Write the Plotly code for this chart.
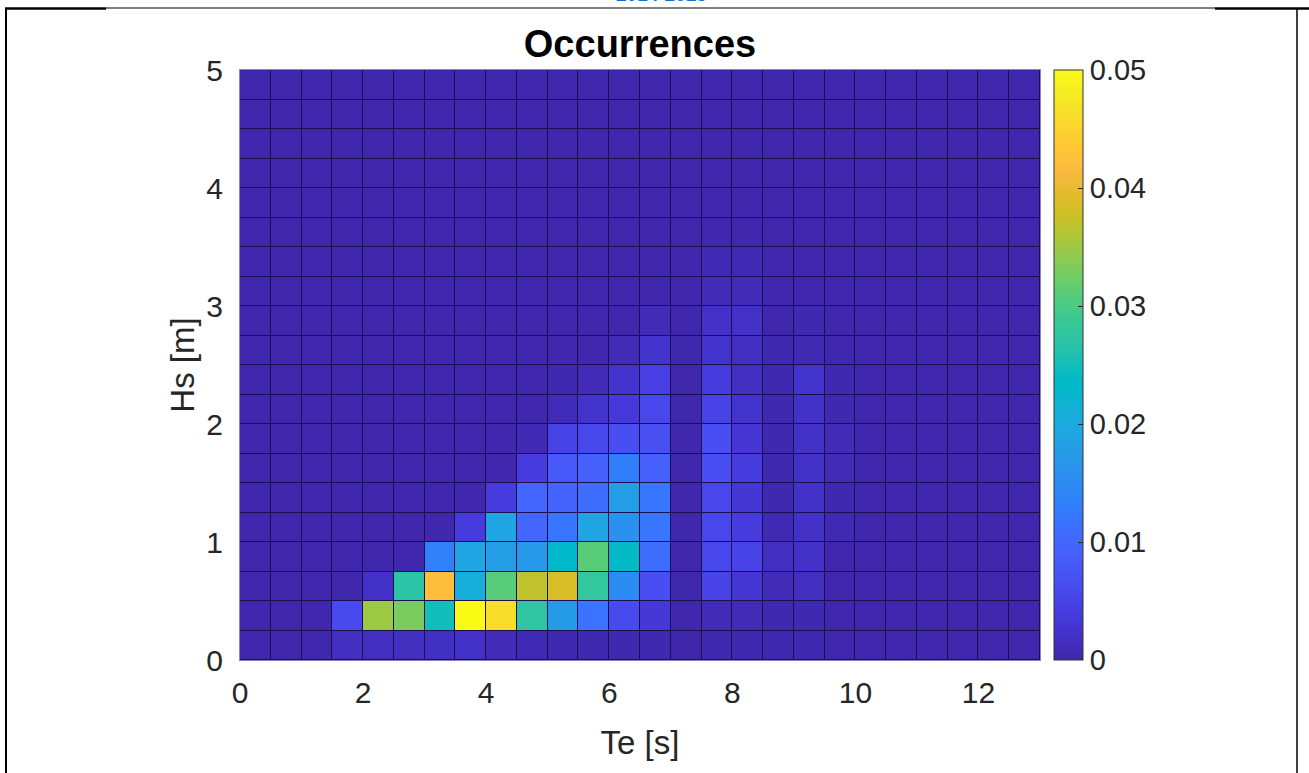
import plotly.graph_objects as go

# ---------------- data ----------------
Te_edges = [0.0, 0.5, 1.0, 1.5, 2.0, 2.5, 3.0, 3.5, 4.0, 4.5, 5.0, 5.5, 6.0, 6.5,
            7.0, 7.5, 8.0, 8.5, 9.0, 9.5, 10.0, 10.5, 11.0, 11.5, 12.0, 12.5, 13.0]
Hs_edges = [0.0, 0.25, 0.5, 0.75, 1.0, 1.25, 1.5, 1.75, 2.0, 2.25, 2.5, 2.75,
            3.0, 3.25, 3.5, 3.75, 4.0, 4.25, 4.5, 4.75, 5.0]

b = 0.0004
# occurrences, one list per Hs bin (bottom to top), 26 Te bins each
occ_r00 = [b, b, b, 0.0015, 0.0015, 0.0015, 0.0018, 0.002, 0.001, 0.0008, 0.0006, 0.0005, 0.0005, 0.0005, 0.0002, 0.0006, 0.0006, 0.0005, 0.0005, b, b, b, b, b, b, b]
occ_r01 = [b, b, b, 0.006, 0.035, 0.033, 0.025, 0.05, 0.046, 0.0275, 0.0175, 0.0115, 0.006, 0.0033, 0.0004, 0.001, 0.001, 0.0006, 0.0006, b, b, b, b, b, b, b]
occ_r02 = [b, b, b, b, 0.002, 0.027, 0.042, 0.021, 0.031, 0.037, 0.0385, 0.028, 0.015, 0.0065, 0.0003, 0.005, 0.003, 0.001, 0.0015, b, b, b, b, b, b, b]
occ_r03 = [b, b, b, b, b, b, 0.0135, 0.019, 0.018, 0.017, 0.023, 0.031, 0.0235, 0.011, 0.0003, 0.0055, 0.005, 0.0015, 0.002, b, b, b, b, b, b, b]
occ_r04 = [b, b, b, b, b, b, b, 0.004, 0.019, 0.010, 0.012, 0.019, 0.016, 0.012, 0.0003, 0.0055, 0.004, 0.0008, 0.002, 0.0008, b, b, b, b, b, b]
occ_r05 = [b, b, b, b, b, b, b, b, 0.004, 0.010, 0.0095, 0.011, 0.018, 0.012, 0.0003, 0.0055, 0.003, 0.0006, 0.002, 0.0006, b, b, b, b, b, b]
occ_r06 = [b, b, b, b, b, b, b, b, b, 0.004, 0.008, 0.009, 0.013, 0.009, 0.0003, 0.0065, 0.004, 0.0006, 0.002, 0.001, b, b, b, b, b, b]
occ_r07 = [b, b, b, b, b, b, b, b, b, 0.0008, 0.005, 0.0055, 0.0065, 0.0068, 0.0003, 0.0065, 0.003, 0.0006, 0.002, 0.001, b, b, b, b, b, b]
occ_r08 = [b, b, b, b, b, b, b, b, b, b, 0.0012, 0.0025, 0.0035, 0.0055, 0.0003, 0.005, 0.0025, 0.0005, 0.002, 0.0006, b, b, b, b, b, b]
occ_r09 = [b, b, b, b, b, b, b, b, b, b, 0.0005, 0.001, 0.0025, 0.0045, 0.0003, 0.004, 0.0015, 0.0005, 0.0025, 0.0006, b, b, b, b, b, b]
occ_r10 = [b, b, b, b, b, b, b, b, b, b, b, b, 0.001, 0.0025, 0.0003, 0.0025, 0.0015, 0.0005, 0.0008, b, b, b, b, b, b, b]
occ_r11 = [b, b, b, b, b, b, b, b, b, b, b, b, b, 0.001, 0.0003, 0.002, 0.002, b, 0.0006, b, b, b, b, b, b, b]
occ_r12 = [b, b, b, b, b, b, b, b, b, b, b, b, b, b, b, 0.001, 0.001, b, b, b, b, b, b, b, b, b]
occ_r13 = [b, b, b, b, b, b, b, b, b, b, b, b, b, b, b, 0.0008, 0.0008, b, b, b, b, b, b, b, b, b]
occ_r14 = [b] * 26
occ_r15 = [b] * 26
occ_r16 = [b] * 26
occ_r17 = [b] * 26
occ_r18 = [b] * 26
occ_r19 = [b] * 26

occurrences = [occ_r00, occ_r01, occ_r02, occ_r03, occ_r04, occ_r05, occ_r06, occ_r07,
               occ_r08, occ_r09, occ_r10, occ_r11, occ_r12, occ_r13, occ_r14, occ_r15,
               occ_r16, occ_r17, occ_r18, occ_r19]

x_ticks = [0, 2, 4, 6, 8, 10, 12]
y_ticks = [0, 1, 2, 3, 4, 5]
cb_ticks = [0, 0.01, 0.02, 0.03, 0.04, 0.05]
cb_ticktext = ["0", "0.01", "0.02", "0.03", "0.04", "0.05"]

# ---------------- parula colormap ----------------
parula = [
    (0.2422, 0.1504, 0.6603), (0.2504, 0.1650, 0.7076), (0.2578, 0.1818, 0.7511), (0.2647, 0.1978, 0.7952),
    (0.2706, 0.2147, 0.8364), (0.2751, 0.2342, 0.8710), (0.2783, 0.2559, 0.8991), (0.2803, 0.2782, 0.9221),
    (0.2813, 0.3006, 0.9414), (0.2810, 0.3228, 0.9579), (0.2795, 0.3447, 0.9717), (0.2760, 0.3667, 0.9829),
    (0.2699, 0.3892, 0.9906), (0.2602, 0.4123, 0.9952), (0.2440, 0.4358, 0.9988), (0.2206, 0.4603, 0.9973),
    (0.1963, 0.4847, 0.9892), (0.1834, 0.5074, 0.9798), (0.1786, 0.5289, 0.9682), (0.1764, 0.5499, 0.9520),
    (0.1687, 0.5703, 0.9359), (0.1540, 0.5902, 0.9218), (0.1460, 0.6091, 0.9079), (0.1380, 0.6276, 0.8973),
    (0.1248, 0.6459, 0.8883), (0.1113, 0.6635, 0.8763), (0.0952, 0.6798, 0.8598), (0.0689, 0.6948, 0.8394),
    (0.0297, 0.7082, 0.8163), (0.0036, 0.7203, 0.7917), (0.0067, 0.7312, 0.7660), (0.0433, 0.7411, 0.7394),
    (0.0964, 0.7500, 0.7120), (0.1408, 0.7584, 0.6842), (0.1717, 0.7670, 0.6554), (0.1938, 0.7758, 0.6251),
    (0.2161, 0.7843, 0.5923), (0.2470, 0.7918, 0.5567), (0.2906, 0.7973, 0.5188), (0.3406, 0.8008, 0.4789),
    (0.3909, 0.8029, 0.4354), (0.4456, 0.8024, 0.3909), (0.5044, 0.7993, 0.3480), (0.5616, 0.7942, 0.3045),
    (0.6174, 0.7876, 0.2612), (0.6720, 0.7793, 0.2227), (0.7242, 0.7698, 0.1910), (0.7738, 0.7598, 0.1646),
    (0.8203, 0.7498, 0.1535), (0.8634, 0.7406, 0.1596), (0.9035, 0.7330, 0.1774), (0.9393, 0.7288, 0.2100),
    (0.9728, 0.7298, 0.2394), (0.9956, 0.7434, 0.2371), (0.9970, 0.7659, 0.2199), (0.9952, 0.7893, 0.2028),
    (0.9892, 0.8136, 0.1885), (0.9786, 0.8386, 0.1766), (0.9676, 0.8639, 0.1643), (0.9610, 0.8890, 0.1537),
    (0.9597, 0.9135, 0.1423), (0.9628, 0.9373, 0.1265), (0.9691, 0.9606, 0.1064), (0.9769, 0.9839, 0.0805),
]
n = len(parula)
colorscale = [[i / (n - 1), "rgb(%d,%d,%d)" % tuple(round(c * 255) for c in rgb)]
              for i, rgb in enumerate(parula)]

# ---------------- figure ----------------
W, H = 1309, 773
L, R, T, B = 240, 1040, 70, 660   # plot area in pixels
FONT = "Liberation Sans, Arial, Helvetica, sans-serif"
TXT = "#262626"

fig = go.Figure(go.Heatmap(
    x=Te_edges, y=Hs_edges, z=occurrences,
    colorscale=colorscale, zmin=0, zmax=0.05,
    xgap=1, ygap=1,
    colorbar=dict(
        x=1 + 14 / (R - L), xanchor="left", xpad=0,
        y=0.5, yanchor="middle", len=1, lenmode="fraction", ypad=0,
        thickness=29, thicknessmode="pixels",
        outlinecolor="#333333", outlinewidth=1,
        tickvals=cb_ticks, ticktext=cb_ticktext,
        ticks="inside", ticklen=5, tickcolor=TXT,
        tickfont=dict(family=FONT, size=29, color=TXT),
    ),
))


def px2x(p):
    return (p - L) / (R - L)


def px2y(p):
    return (B - p) / (B - T)


shapes = [
    # outer frame
    dict(type="line", xref="paper", yref="paper", x0=px2x(6), x1=px2x(6), y0=px2y(8), y1=px2y(780),
         line=dict(color="black", width=2)),
    dict(type="line", xref="paper", yref="paper", x0=px2x(1297), x1=px2x(1297), y0=px2y(8), y1=px2y(780),
         line=dict(color="black", width=1.5)),
    dict(type="line", xref="paper", yref="paper", x0=px2x(5), x1=px2x(106), y0=px2y(8.5), y1=px2y(8.5),
         line=dict(color="black", width=2.5)),
    dict(type="line", xref="paper", yref="paper", x0=px2x(106), x1=px2x(1215), y0=px2y(8), y1=px2y(8),
         line=dict(color="black", width=1)),
    dict(type="line", xref="paper", yref="paper", x0=px2x(1215), x1=px2x(1309), y0=px2y(8.5), y1=px2y(8.5),
         line=dict(color="black", width=2.5)),
]

fig.update_layout(
    width=W, height=H,
    margin=dict(l=L, r=W - R, t=T, b=H - B, pad=0),
    paper_bgcolor="white",
    plot_bgcolor="#1c0f4e",
    font=dict(family=FONT, color=TXT),
    title=dict(text="<b>Occurrences</b>", x=(L + R) / 2 / W, xanchor="center",
               y=1 - 44 / H, yanchor="middle", yref="container",
               font=dict(family=FONT, size=38, color="black")),
    xaxis=dict(range=[0, 13], tickvals=x_ticks, ticks="", showgrid=False, zeroline=False,
               tickfont=dict(size=30, color=TXT), ticklabelstandoff=6,
               showline=True, linecolor="#8a84c4", linewidth=1, mirror=True,
               title=dict(text="Te [s]", font=dict(size=33, color=TXT), standoff=22)),
    yaxis=dict(range=[0, 5], tickvals=y_ticks, ticks="", showgrid=False, zeroline=False,
               tickfont=dict(size=30, color=TXT), ticklabelstandoff=10,
               showline=True, linecolor="#8a84c4", linewidth=1, mirror=True,
               title=dict(text="Hs [m]", font=dict(size=33, color=TXT), standoff=1)),
    shapes=shapes,
    annotations=[dict(text="<b>2014-2015</b>", xref="paper", yref="paper",
                      x=px2x(661), y=px2y(-5), xanchor="center", yanchor="middle",
                      showarrow=False, font=dict(family=FONT, size=19, color="#0a70d0"))],
)

fig.write_html("out.html", config={"displayModeBar": False},
               post_script="document.body.style.margin='0';")
